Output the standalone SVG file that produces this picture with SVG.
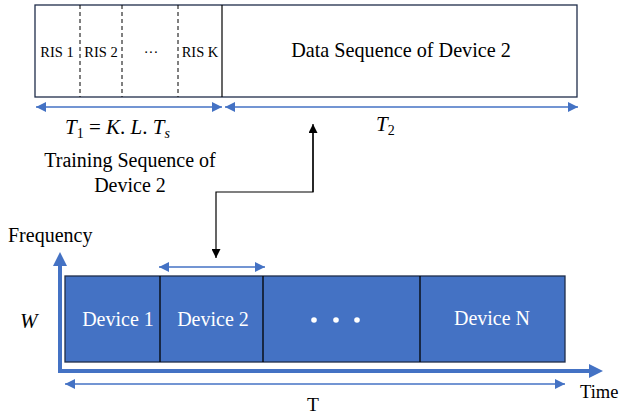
<svg xmlns="http://www.w3.org/2000/svg" width="619" height="416" viewBox="0 0 619 416">
<style>
.box{fill:#fff;stroke:#1f2d4a;stroke-width:1.3}
.dash{stroke:#000;stroke-width:1;stroke-dasharray:4,3}
.dev{fill:#4472C4;stroke:#1f2d4a;stroke-width:1.3}
.blu{stroke:#4472C4;fill:none;stroke-width:1.5}
</style>
<defs>
<marker id="bh" viewBox="0 0 10 10" refX="10" refY="5" markerWidth="10" markerHeight="10" markerUnits="userSpaceOnUse" orient="auto-start-reverse"><path d="M0,0 L10,5 L0,10 Z" fill="#4472C4"/></marker>
<marker id="kh" viewBox="0 0 10 10" refX="10" refY="5" markerWidth="9" markerHeight="9" markerUnits="userSpaceOnUse" orient="auto"><path d="M0,0 L10,5 L0,10 Z" fill="#000"/></marker>
</defs>
<rect width="619" height="416" fill="#fff"/>
<g id="sequence-box">
<rect class="box" x="35" y="5" width="542" height="92"/>
<line x1="222" y1="5" x2="222" y2="97" stroke="#000" stroke-width="1.2"/>
<line class="dash" x1="80" y1="5" x2="80" y2="97"/>
<line class="dash" x1="122" y1="5" x2="122" y2="97"/>
<line class="dash" x1="178" y1="5" x2="178" y2="97"/>
<text font-family="'Liberation Serif', serif" x="57" y="57" font-size="14.5" text-anchor="middle">RIS 1</text>
<text font-family="'Liberation Serif', serif" x="101" y="57" font-size="14.5" text-anchor="middle">RIS 2</text>
<text font-family="'Liberation Serif', serif" x="151" y="57" font-size="14.5" text-anchor="middle">···</text>
<text font-family="'Liberation Serif', serif" x="200" y="57" font-size="14.5" text-anchor="middle">RIS K</text>
<text font-family="'Liberation Serif', serif" x="401" y="57" font-size="20.2" text-anchor="middle">Data Sequence of Device 2</text>
</g>
<g id="labels">
<text font-family="'Liberation Serif', serif" x="65" y="134" font-size="21"><tspan font-style="italic">T</tspan><tspan font-size="14" dy="4">1</tspan><tspan dy="-4"> = </tspan><tspan font-style="italic">K</tspan>. <tspan font-style="italic">L</tspan>. <tspan font-style="italic">T</tspan><tspan font-style="italic" font-size="14" dy="4">s</tspan></text>
<text font-family="'Liberation Serif', serif" x="376" y="131" font-size="21"><tspan font-style="italic">T</tspan><tspan font-size="14" dy="4">2</tspan></text>
<text font-family="'Liberation Serif', serif" x="130" y="167" font-size="20" text-anchor="middle">Training Sequence of</text>
<text font-family="'Liberation Serif', serif" x="130" y="192" font-size="20" text-anchor="middle">Device 2</text>
<text font-family="'Liberation Serif', serif" x="8" y="242" font-size="20">Frequency</text>
<text font-family="'Liberation Serif', serif" x="20" y="328" font-size="21" font-style="italic">W</text>
<text font-family="'Liberation Serif', serif" x="313" y="411" font-size="19.5" text-anchor="middle">T</text>
<text font-family="'Liberation Serif', serif" x="580" y="398" font-size="18.5">Time</text>
</g>
<g id="devices">
<rect class="dev" x="65" y="276" width="500" height="86"/>
<line x1="160" y1="276" x2="160" y2="362" stroke="#000" stroke-width="1.3"/>
<line x1="263" y1="276" x2="263" y2="362" stroke="#000" stroke-width="1.3"/>
<line x1="420" y1="276" x2="420" y2="362" stroke="#000" stroke-width="1.3"/>
<text font-family="'Liberation Serif', serif" fill="#fff" x="118" y="326" font-size="20" text-anchor="middle">Device 1</text>
<text font-family="'Liberation Serif', serif" fill="#fff" x="213" y="326" font-size="20" text-anchor="middle">Device 2</text>
<circle cx="314" cy="320" r="2.8" fill="#fff"/>
<circle cx="336" cy="320" r="2.8" fill="#fff"/>
<circle cx="357" cy="320" r="2.8" fill="#fff"/>
<text font-family="'Liberation Serif', serif" fill="#fff" x="492" y="325" font-size="20" text-anchor="middle">Device N</text>
</g>
<g id="connectors">
<line class="blu" x1="36" y1="107" x2="222" y2="107" marker-start="url(#bh)" marker-end="url(#bh)"/>
<line class="blu" x1="225" y1="107" x2="578" y2="107" marker-start="url(#bh)" marker-end="url(#bh)"/>
<polyline points="313,128 313,192 216,192 216,258" fill="none" stroke="#000" stroke-width="1.2" marker-end="url(#kh)"/>
<line x1="313" y1="192" x2="313" y2="124" stroke="#000" stroke-width="1.2" marker-end="url(#kh)"/>
<line class="blu" x1="159" y1="267" x2="265" y2="267" marker-start="url(#bh)" marker-end="url(#bh)"/>
<polyline points="60,262 60,371 592,371" fill="none" stroke="#4472C4" stroke-width="4"/>
<path d="M60,252 L67,266 L53,266 Z" fill="#4472C4"/>
<path d="M603,371 L589,364 L589,378 Z" fill="#4472C4"/>
<line class="blu" x1="65" y1="384" x2="565" y2="384" marker-start="url(#bh)" marker-end="url(#bh)"/>
</g>
</svg>
